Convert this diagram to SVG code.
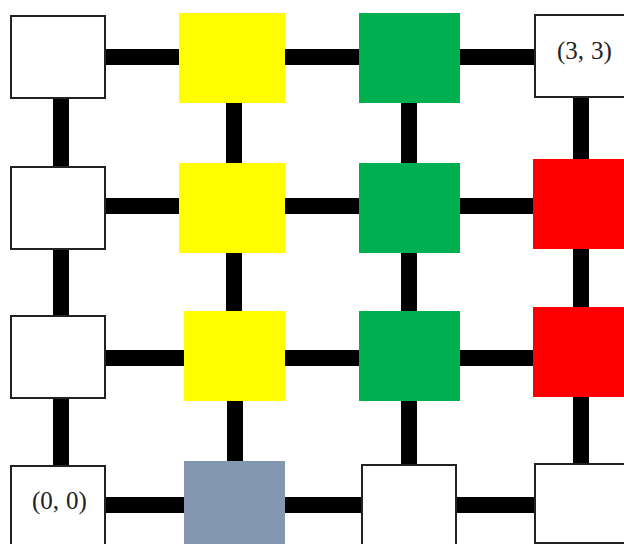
<svg xmlns="http://www.w3.org/2000/svg" width="624" height="544" viewBox="0 0 624 544">
<style>
.c{stroke:#000;stroke-width:16;fill:none}
.w{fill:#fff;stroke:#222;stroke-width:2}
.y{fill:#FFFF00}
.g{fill:#00B050}
.r{fill:#FF0000}
.b{fill:#8497B0}
.t{font-family:"Liberation Serif","DejaVu Serif",serif;font-size:25px;fill:#222}
</style>
<rect width="624" height="544" fill="#fff"/>
<g id="connectors">
<line class="c" x1="100" y1="57" x2="185" y2="57"/>
<line class="c" x1="280" y1="57" x2="365" y2="57"/>
<line class="c" x1="455" y1="57" x2="540" y2="57"/>
<line class="c" x1="100" y1="206" x2="185" y2="206"/>
<line class="c" x1="280" y1="206" x2="365" y2="206"/>
<line class="c" x1="455" y1="206" x2="540" y2="206"/>
<line class="c" x1="100" y1="358" x2="190" y2="358"/>
<line class="c" x1="280" y1="358" x2="365" y2="358"/>
<line class="c" x1="455" y1="358" x2="540" y2="358"/>
<line class="c" x1="100" y1="505" x2="190" y2="505"/>
<line class="c" x1="280" y1="505" x2="365" y2="505"/>
<line class="c" x1="450" y1="505" x2="540" y2="505"/>
<line class="c" x1="61" y1="92" x2="61" y2="172"/>
<line class="c" x1="61" y1="244" x2="61" y2="322"/>
<line class="c" x1="61" y1="393" x2="61" y2="472"/>
<line class="c" x1="234" y1="98" x2="234" y2="168"/>
<line class="c" x1="234" y1="248" x2="234" y2="316"/>
<line class="c" x1="235" y1="396" x2="235" y2="466"/>
<line class="c" x1="409" y1="98" x2="409" y2="168"/>
<line class="c" x1="409" y1="248" x2="409" y2="316"/>
<line class="c" x1="409" y1="396" x2="409" y2="470"/>
<line class="c" x1="581" y1="92" x2="581" y2="164"/>
<line class="c" x1="581" y1="244" x2="581" y2="312"/>
<line class="c" x1="581" y1="392" x2="581" y2="468"/>
</g>
<g id="n03"><rect class="w" x="11" y="16" width="94" height="82"/></g>
<g id="n13"><rect class="y" x="179" y="13" width="106" height="90"/></g>
<g id="n23"><rect class="g" x="359" y="13" width="101" height="90"/></g>
<g id="n33"><rect class="w" x="535" y="15" width="94" height="82"/><text class="t" x="557" y="59">(3,<tspan dx="7">3)</tspan></text></g>
<g id="n02"><rect class="w" x="11" y="167" width="94" height="82"/></g>
<g id="n12"><rect class="y" x="179" y="163" width="106" height="90"/></g>
<g id="n22"><rect class="g" x="359" y="163" width="101" height="90"/></g>
<g id="n32"><rect class="r" x="533" y="159" width="106" height="90"/></g>
<g id="n01"><rect class="w" x="11" y="316" width="94" height="82"/></g>
<g id="n11"><rect class="y" x="184" y="311" width="101" height="90"/></g>
<g id="n21"><rect class="g" x="359" y="311" width="101" height="90"/></g>
<g id="n31"><rect class="r" x="533" y="307" width="106" height="90"/></g>
<g id="n00"><rect class="w" x="11" y="466" width="94" height="82"/><text class="t" x="32" y="509">(0,<tspan dx="7">0)</tspan></text></g>
<g id="n10"><rect class="b" x="184" y="461" width="101" height="90"/></g>
<g id="n20"><rect class="w" x="362" y="465" width="94" height="82"/></g>
<g id="n30"><rect class="w" x="535" y="464" width="94" height="79"/></g>
</svg>
